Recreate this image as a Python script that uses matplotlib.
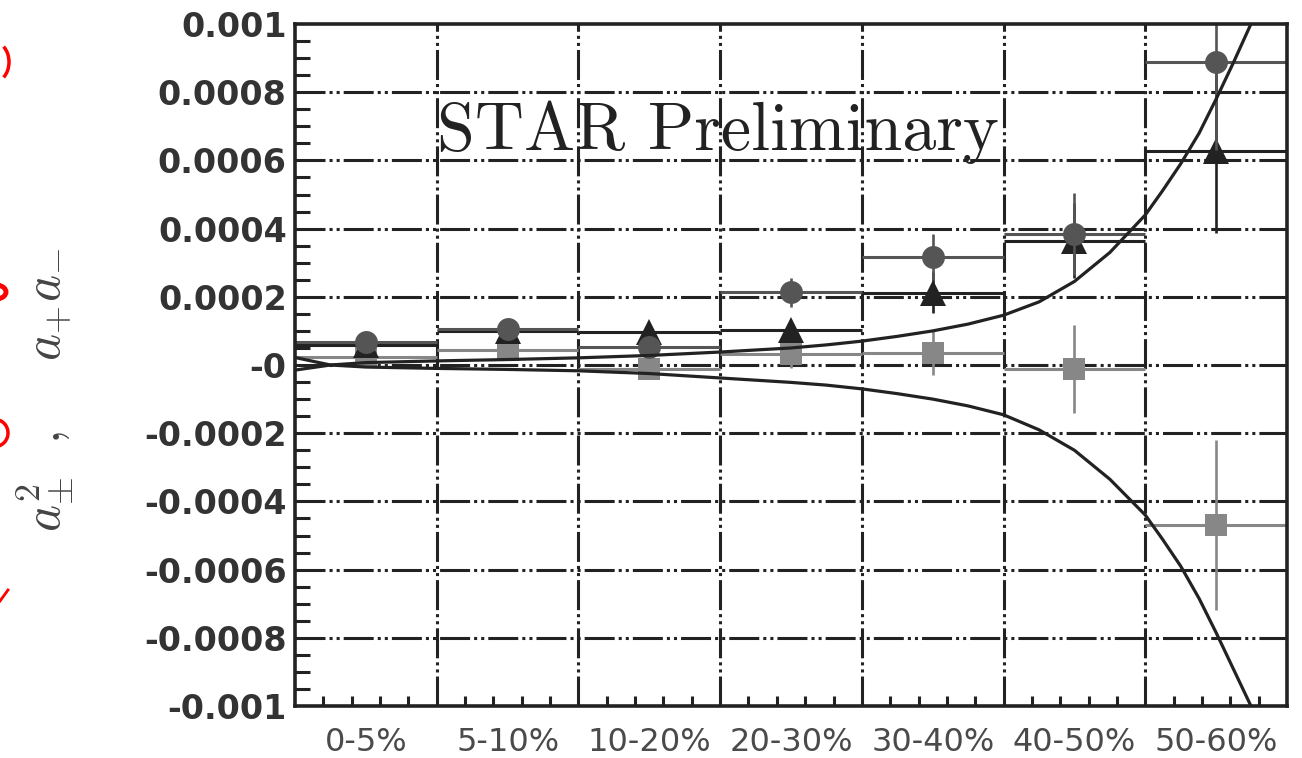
import matplotlib
matplotlib.use('Agg')
import matplotlib.pyplot as plt
from matplotlib.patches import Arc
from matplotlib.lines import Line2D

plt.rcParams['lines.scale_dashes'] = False
plt.rcParams['mathtext.fontset'] = 'cm'

# ---------------- data ----------------
categories = ['0-5%', '5-10%', '10-20%', '20-30%', '30-40%', '40-50%', '50-60%']

circ_vals = [6.8e-5, 1.05e-4, 5.3e-5, 2.13e-4, 3.17e-4, 3.85e-4, 8.9e-4]
circ_err = [1.5e-5, 2.0e-5, 1.5e-5, 4.3e-5, 6.7e-5, 1.2e-4, 2.6e-4]

tri_vals = [5.8e-5, 1.0e-4, 9.7e-5, 1.02e-4, 2.12e-4, 3.65e-4, 6.28e-4]
tri_err = [1.5e-5, 1.5e-5, 1.5e-5, 2.0e-5, 6.0e-5, 1.1e-4, 2.4e-4]

sq_vals = [2.3e-5, 4.3e-5, -1.2e-5, 3.2e-5, 3.5e-5, -1.2e-5, -4.69e-4]
sq_err = [1.5e-5, 2.0e-5, 2.0e-5, 4.0e-5, 6.4e-5, 1.3e-4, 2.5e-4]

curve_x = [0.0, 0.25, 0.5, 1.0, 1.5, 2.0, 2.5, 3.0, 3.5, 3.75, 4.0, 4.25,
           4.5, 4.75, 5.0, 5.25, 5.5, 5.75, 6.0, 6.12, 6.25, 6.38, 6.5,
           6.62, 6.74]
curve_upper = [-1.5e-5, 0.0, 0.7e-5, 1.2e-5, 1.6e-5, 2.1e-5, 2.8e-5, 3.8e-5,
               5.0e-5, 5.9e-5, 7.0e-5, 8.4e-5, 1.0e-4, 1.2e-4, 1.46e-4,
               1.85e-4, 2.45e-4, 3.3e-4, 4.4e-4, 5.1e-4, 5.9e-4, 6.8e-4,
               7.8e-4, 8.85e-4, 9.95e-4]
curve_lower = [2.2e-5, 0.0, -0.6e-5, -1.0e-5, -1.3e-5, -1.7e-5, -2.5e-5,
               -3.8e-5, -5.1e-5, -5.9e-5, -7.0e-5, -8.4e-5, -1.0e-4,
               -1.2e-4, -1.46e-4, -1.9e-4, -2.5e-4, -3.35e-4, -4.4e-4,
               -5.1e-4, -5.9e-4, -6.85e-4, -7.85e-4, -8.9e-4, -9.95e-4]

y_ticks = [0.001, 0.0008, 0.0006, 0.0004, 0.0002, 0.0, -0.0002, -0.0004,
           -0.0006, -0.0008, -0.001]
y_ticklabels = ['0.001', '0.0008', '0.0006', '0.0004', '0.0002', '-0',
                '-0.0002', '-0.0004', '-0.0006', '-0.0008', '-0.001']

# ---------------- figure ----------------
W, H = 1302, 758
fig = plt.figure(figsize=(W / 100, H / 100), dpi=100)
ax = fig.add_axes([295 / W, 1 - 706 / H, (1287 - 295) / W, (706 - 24) / H])

n = len(categories)
centers = [i + 0.5 for i in range(n)]
ax.set_xlim(0, n)
ax.set_ylim(-0.001, 0.001)

grid_dash = (0, (21.6, 2.9, 2.2, 2.9, 2.2, 2.9))
gcol = '#222222'

# grid
for b in range(1, n):
    ax.axvline(b, color=gcol, lw=2.2, linestyle=grid_dash, zorder=1)
for t in y_ticks[1:-1]:
    ax.axhline(t, color=gcol, lw=2.2, linestyle=grid_dash, zorder=1)

# series
def draw(vals, errs, marker, color, ms, z):
    ax.errorbar(centers, vals, xerr=0.5, fmt='none', ecolor=color,
                elinewidth=2.2, capsize=0, zorder=z)
    ax.errorbar(centers, vals, yerr=errs, fmt=marker, color=color,
                ecolor=color, elinewidth=1.9, capsize=3.2, capthick=1.9,
                markersize=ms, markeredgewidth=0, zorder=z + 0.5)

draw(sq_vals, sq_err, 's', '#878787', 15.5, 3)
draw(tri_vals, tri_err, '^', '#222222', 19, 4)
draw(circ_vals, circ_err, 'o', '#555555', 16.5, 5)

# curves
ax.plot(curve_x, curve_upper, color='#222222', lw=2.3, zorder=7)
ax.plot(curve_x, curve_lower, color='#222222', lw=2.3, zorder=7)

# ticks
ax.set_yticks(y_ticks)
ax.set_yticklabels(y_ticklabels, fontfamily='DejaVu Sans', fontweight='bold',
                   fontsize=24, color='#333333')
ax.set_yticks([i * 5e-5 for i in range(-20, 21)], minor=True)
ax.tick_params(axis='y', which='major', length=0, pad=6)
ax.tick_params(axis='y', which='minor', direction='in', length=10.8,
               width=2.2, color=gcol, left=True, right=False)

ax.set_xticks(list(range(0, n + 1)))
ax.set_xticklabels([])
ax.set_xticks([i * 0.2 for i in range(0, 5 * n + 1)], minor=True)
ax.tick_params(axis='x', which='major', length=0)
ax.tick_params(axis='x', which='minor', direction='in', length=7.2,
               width=2.2, color=gcol, bottom=True, top=False)

for c, lab in zip(centers, categories):
    ax.text(c, -(751 - 706) / (706 - 24), lab, transform=ax.get_xaxis_transform(),
            ha='center', va='baseline', fontsize=23, color='#4a4a4a',
            fontfamily='DejaVu Sans')

for s in ax.spines.values():
    s.set_linewidth(2.6)
    s.set_color(gcol)
    s.set_zorder(10)

# STAR Preliminary
ax.text(1.0, 6.3e-4, 'STAR Preliminary', fontfamily='cmr10', fontsize=49,
        color='#222222', ha='left', va='baseline', zorder=6)

# y label
fig.text(45 / W, 1 - 390 / H, r'$a_{\pm}^{2}\ \ ,\ \ \ \ a_{+}a_{-}$',
         rotation=90, ha='center', va='center', fontsize=37, color='#444444')

# red annotation fragments at the left edge
def fx(x):
    return x / W

def fy(y):
    return 1 - y / H

red = '#ff0000'
fig.add_artist(Arc((fx(-6), fy(62)), 30 / W, 40 / H, theta1=-70, theta2=70,
                   color=red, lw=2.5, transform=fig.transFigure))
fig.add_artist(Arc((fx(-4), fy(292)), 20 / W, 14 / H, theta1=-80, theta2=80,
                   color=red, lw=3.5, transform=fig.transFigure))
fig.add_artist(Arc((fx(-5), fy(433)), 26 / W, 27 / H, theta1=-85, theta2=85,
                   color=red, lw=2.5, transform=fig.transFigure))
fig.add_artist(Line2D([fx(0), fx(8)], [fy(601), fy(590)], color=red, lw=2,
                      transform=fig.transFigure))

fig.savefig('out.png', dpi=100, facecolor='white')
